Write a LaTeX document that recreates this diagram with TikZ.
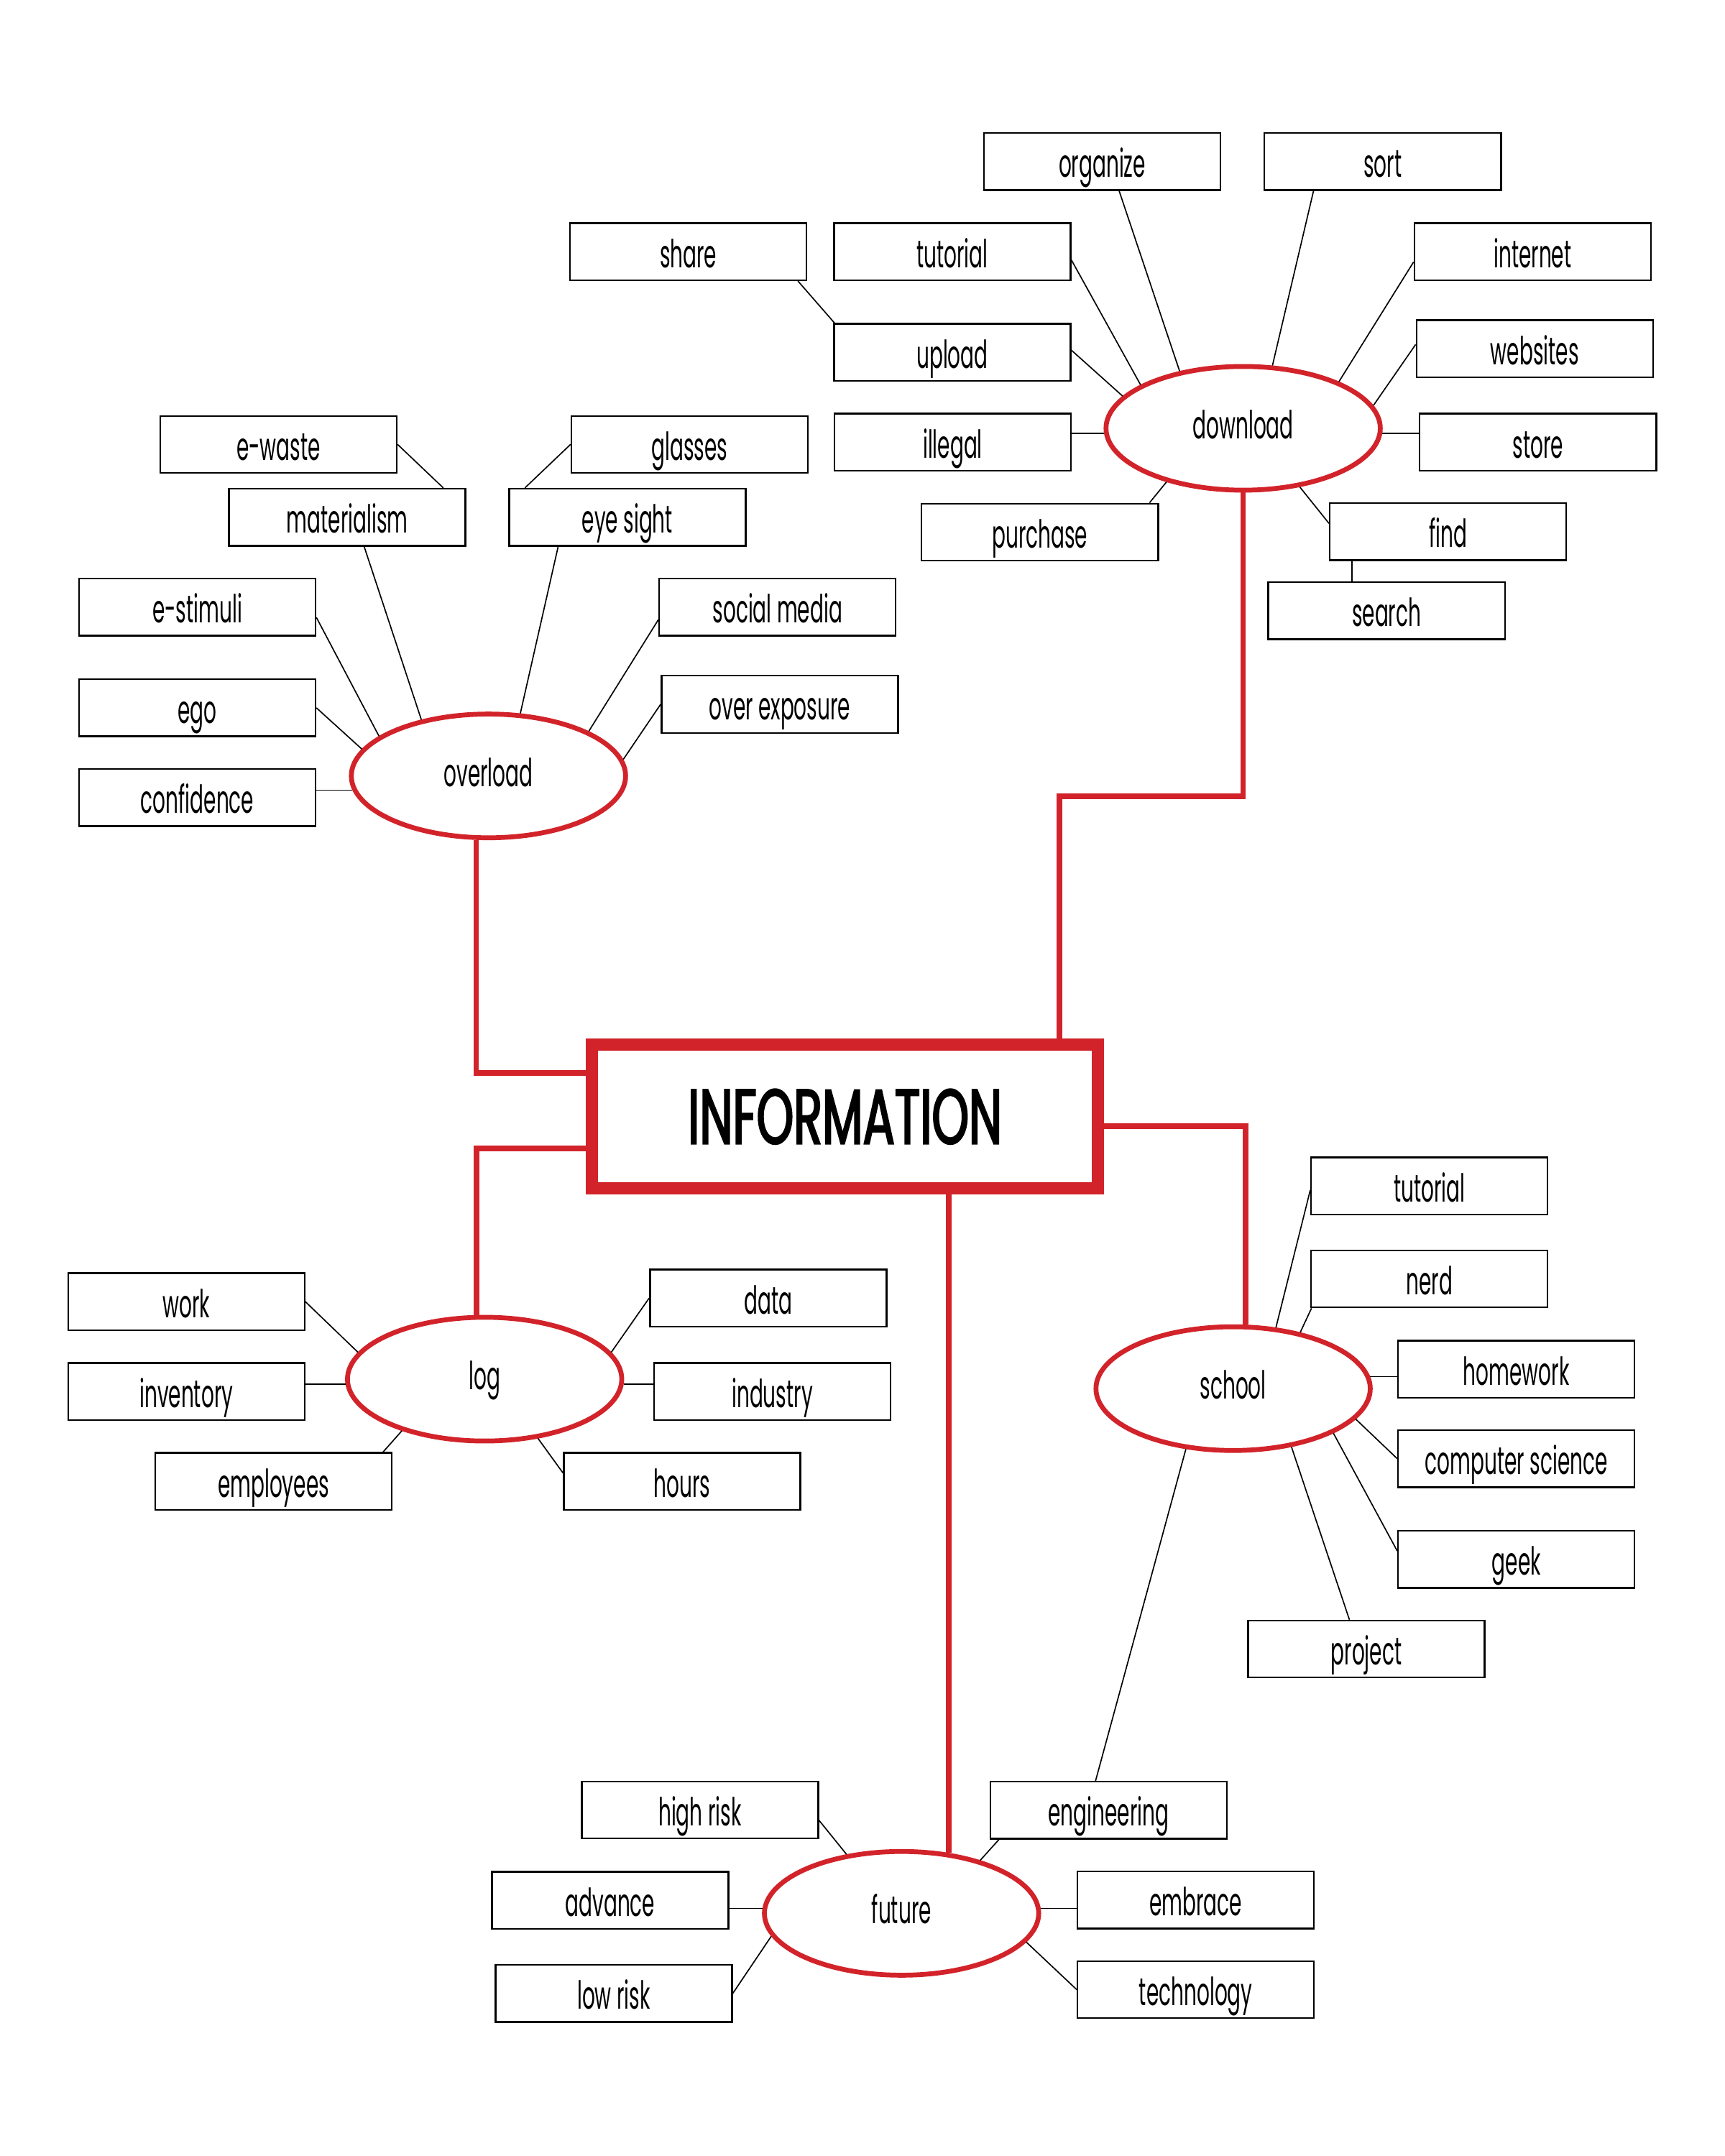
\documentclass[tikz,border=0pt]{standalone}
\usepackage{fontspec}
\setmainfont{Poppins}[FakeStretch=0.52]
\newfontfamily\headfont{Poppins}[FakeStretch=0.61, FakeBold=2.2]
\usepackage{xcolor}
\usepackage{tikz}
\usetikzlibrary{shapes,positioning,calc}
\definecolor{infored}{RGB}{210,35,42}

\begin{document}
\begin{tikzpicture}[
    x=0.02cm, y=-0.02cm,
    box/.style={
        rectangle, draw, line width=0.7pt,
        minimum width=3.44cm, minimum height=0.83cm,
        inner sep=0pt, text height=0.58cm, text depth=0.12cm,
        font=\fontsize{16}{18}\selectfont
    },
    topic/.style={
        ellipse, draw=infored, line width=2pt, fill=white,
        minimum width=3.99cm, minimum height=1.8cm,
        inner sep=0pt, text height=0.46cm, text depth=0.16cm,
        font=\fontsize{16}{18}\selectfont
    },
    core/.style={
        rectangle, draw=infored, line width=5pt, fill=white,
        minimum width=7.36cm, minimum height=2.09cm,
        font=\headfont\fontsize{32}{36}\selectfont
    },
    link/.style={line width=0.5pt},
    branch/.style={draw=infored, line width=2.3pt}
]
    \useasboundingbox (0,0) rectangle (1254,1568);

    % Centre and topics
    \node [core] (info) at (614.5,812.1) {INFORMATION};
    \node [topic] (download) at (904,311.5) {download};
    \node [topic] (overload) at (355.2,564.3) {overload};
    \node [topic] (log) at (352.4,1003) {log};
    \node [topic] (school) at (896.7,1009.9) {school};
    \node [topic] (future) at (655.6,1391.5) {future};

    % download
    \node [box] (organize) at (801.5,117.5) {organize};
    \node [box] (sort) at (1005.5,117.5) {sort};
    \node [box] (share) at (500.5,183) {share};
    \node [box] (tutorial) at (692.5,183) {tutorial};
    \node [box] (internet) at (1114.5,183) {internet};
    \node [box] (upload) at (692.5,256.2) {upload};
    \node [box] (websites) at (1116,253.6) {websites};
    \node [box] (illegal) at (692.8,321.6) {illegal};
    \node [box] (store) at (1118.4,321.6) {store};
    \node [box] (purchase) at (756.2,387) {purchase};
    \node [box] (find) at (1053,386.7) {find};
    \node [box] (search) at (1008.3,444.1) {search};

    % overload
    \node [box] (ewaste) at (202.5,323.2) {e-waste};
    \node [box] (glasses) at (501.5,323.2) {glasses};
    \node [box] (materialism) at (252.5,376.2) {materialism};
    \node [box] (eyesight) at (456.2,376.2) {eye sight};
    \node [box] (estimuli) at (143.5,441.5) {e-stimuli};
    \node [box] (socialmedia) at (565.4,441.5) {social media};
    \node [box] (ego) at (143.5,514.8) {ego};
    \node [box] (overexposure) at (567,512.2) {over exposure};
    \node [box] (confidence) at (143.5,580) {confidence};

    % log
    \node [box] (work) at (135.5,946.7) {work};
    \node [box] (inventory) at (135.5,1012) {inventory};
    \node [box] (employees) at (198.9,1077.3) {employees};
    \node [box] (data) at (558.7,944) {data};
    \node [box] (industry) at (561.6,1012) {industry};
    \node [box] (hours) at (496,1077.3) {hours};

    % school
    \node [box] (schooltutorial) at (1039.4,862.5) {tutorial};
    \node [box] (nerd) at (1039.4,930.1) {nerd};
    \node [box] (homework) at (1102.7,995.7) {homework};
    \node [box] (compsci) at (1102.7,1060.9) {computer science};
    \node [box] (geek) at (1102.7,1134.1) {geek};
    \node [box] (project) at (993.6,1199.3) {project};

    % future
    \node [box] (highrisk) at (509,1316.3) {high risk};
    \node [box] (engineering) at (806.2,1316.4) {engineering};
    \node [box] (advance) at (443.7,1382) {advance};
    \node [box] (embrace) at (869.6,1381.8) {embrace};
    \node [box] (lowrisk) at (446.3,1449.7) {low risk};
    \node [box] (technology) at (869.6,1447) {technology};

    % Red branches
    \coordinate (bend) at (770.4,579);
    \draw [branch] (bend |- info.north) -- (bend) -| (download.south);
    \draw [branch] ([yshift=0.636cm]info.west) -| ([xshift=-0.18cm]overload.south);
    \draw [branch] ([yshift=-0.46cm]info.west) -| ([xshift=-0.12cm]log.north);
    \draw [branch] ([yshift=-0.14cm]info.east) -| ([xshift=0.18cm]school.north);
    \draw [branch] (info.south -| future.52) -- (future.52);

    % Links: download
    \draw [link] (organize.-60) -- (download.138);
    \draw [link] (sort.-157) -- (download.65);
    \draw [link] (tutorial.-4) -- (download.157);
    \draw [link] (upload.1) -- (download.165);
    \draw [link] (share.-15) -- (upload.166);
    \draw [link] (download.182) -- (download.182 -| illegal.east);
    \draw [link] (download.-2) -- (download.-2 -| store.west);
    \draw [link] (internet.-175) -- (download.26);
    \draw [link] (websites.178) -- (download.10);
    \draw [link] (purchase.15) -- (download.-145);
    \draw [link] (find.176) -- (download.-46);
    \draw [link] (find.-163) -- (find.-163 |- search.north);

    % Links: overload
    \draw [link] (ewaste.east) -- (materialism.17);
    \draw [link] (glasses.west) -- (eyesight.164);
    \draw [link] (materialism.-60) -- (overload.140);
    \draw [link] (eyesight.-157) -- (overload.63);
    \draw [link] (estimuli.-5) -- (overload.160);
    \draw [link] (ego.east) -- (overload.168);
    \draw [link] (overload.186) -- (overload.186 -| confidence.east);
    \draw [link] (socialmedia.-174) -- (overload.24);
    \draw [link] (overexposure.west) -- (overload.7);

    % Links: log
    \draw [link] (work.east) -- (log.168);
    \draw [link] (log.182) -- (log.182 -| inventory.east);
    \draw [link] (employees.15) -- (log.-148);
    \draw [link] (data.west) -- (log.12);
    \draw [link] (log.-2) -- (log.-2 -| industry.west);
    \draw [link] (hours.176) -- (log.-48);

    % Links: school
    \draw [link] (schooltutorial.-178) -- (school.55);
    \draw [link] (nerd.-166) -- (school.40);
    \draw [link] (school.5) -- (school.5 -| homework.west);
    \draw [link] (compsci.west) -- (school.-14);
    \draw [link] (geek.176) -- (school.-24);
    \draw [link] (project.120) -- (school.-45);
    \draw [link] (engineering.114) -- (school.-128);

    % Links: future
    \draw [link] (highrisk.-5) -- (future.133);
    \draw [link] (future.178) -- (future.178 -| advance.east);
    \draw [link] (lowrisk.east) -- (future.-170);
    \draw [link] (engineering.-165) -- (future.34);
    \draw [link] (future.2) -- (future.2 -| embrace.west);
    \draw [link] (technology.west) -- (future.-13);

\end{tikzpicture}
\end{document}
